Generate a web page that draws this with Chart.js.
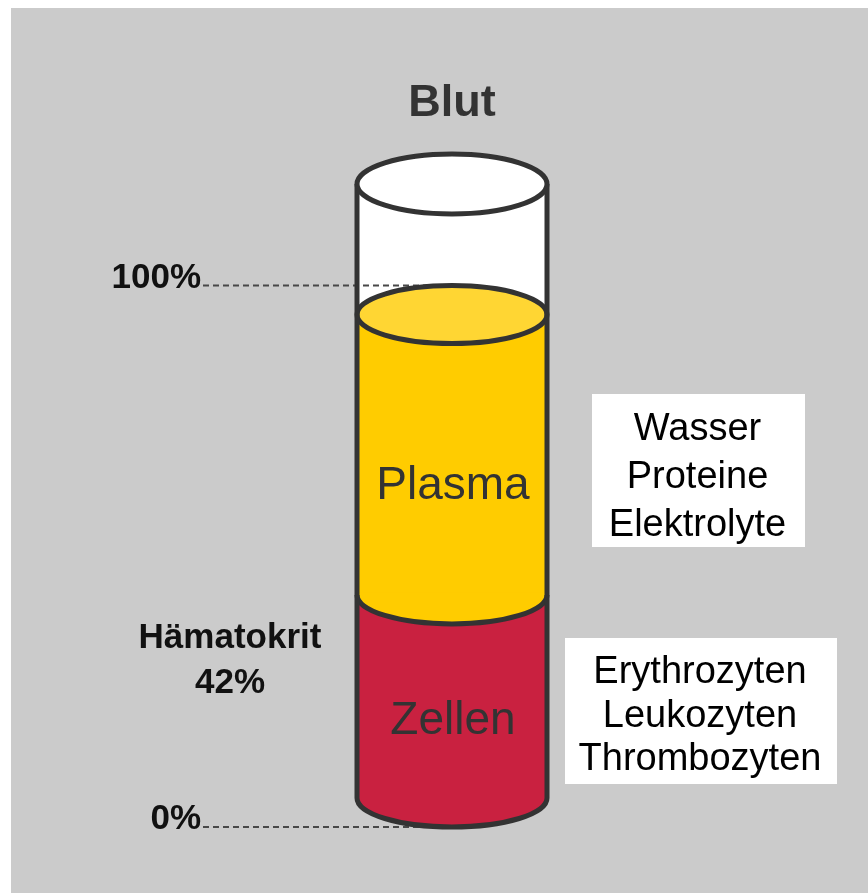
<!DOCTYPE html>
<html>
<head>
<meta charset="utf-8">
<script src="https://cdn.jsdelivr.net/npm/chart.js@4.4.1/dist/chart.umd.min.js"></script>
<style>
  body { margin: 0; background: #ffffff; }
  canvas { display: block; }
</style>
</head>
<body>
<canvas id="bloodChart" width="868" height="894"></canvas>
<script>
// --- Daten ---
const categories = ['Blut'];
const zellenValues = [42];   // Hämatokrit
const plasmaValues = [58];
const leerValues = [27];     // leerer Teil des Röhrchens oben
const tickValues = [0, 100];
const tickLabels = ['0%', '100%'];
const plasmaItems = ['Wasser', 'Proteine', 'Elektrolyte'];
const zellenItems = ['Erythrozyten', 'Leukozyten', 'Thrombozyten'];

const FONT = 'Arial, "Liberation Sans", Helvetica, sans-serif';
const LINE = '#333333';
const RED = '#C92140';
const YELLOW = '#FFCC00';
const YELLOW_TOP = '#FFD633';

// Hintergrund (grauer Kasten)
const backgroundPlugin = {
    id: 'grayBackground',
    beforeDraw(chart) {
        const ctx = chart.ctx;
        ctx.save();
        ctx.fillStyle = '#CBCBCB';
        ctx.fillRect(11, 8, 857, 885);
        ctx.restore();
    }
};

// Zylinder, gestrichelte Linien und Beschriftungen
const cylinderPlugin = {
    id: 'cylinder',
    afterDatasetsDraw(chart) {
        const ctx = chart.ctx;
        const y = chart.scales.y;
        const bar = chart.getDatasetMeta(0).data[0];
        const cx = bar.x;
        const rx = bar.width / 2;
        const ry = 29;
        const total = zellenValues[0] + plasmaValues[0];
        const y0 = y.getPixelForValue(0);
        const yB = y.getPixelForValue(zellenValues[0]);
        const yP = y.getPixelForValue(total);
        const yT = y.getPixelForValue(total + leerValues[0]);

        ctx.save();

        // gestrichelte Linien 0% / 100%
        ctx.setLineDash([6, 4]);
        ctx.strokeStyle = '#484848';
        ctx.lineWidth = 2;
        const lineYs = [y0 + ry, yP - ry];
        lineYs.forEach(ly => {
            ctx.beginPath();
            ctx.moveTo(203, ly);
            ctx.lineTo(cx, ly);
            ctx.stroke();
        });
        ctx.setLineDash([]);

        ctx.lineWidth = 5;
        ctx.strokeStyle = LINE;

        // Boden (rot)
        ctx.beginPath();
        ctx.ellipse(cx, y0, rx, ry, 0, 0, Math.PI);
        ctx.fillStyle = RED;
        ctx.fill();
        ctx.stroke();

        // Grenze Zellen / Plasma (Naht zwischen den Balken überdecken)
        ctx.fillStyle = YELLOW;
        ctx.fillRect(cx - rx, yB - 2, rx * 2, 4);
        ctx.beginPath();
        ctx.ellipse(cx, yB, rx, ry, 0, 0, Math.PI);
        ctx.fill();
        ctx.stroke();

        // Oberfläche Plasma
        ctx.beginPath();
        ctx.ellipse(cx, yP, rx, ry, 0, 0, Math.PI * 2);
        ctx.fillStyle = YELLOW_TOP;
        ctx.fill();
        ctx.stroke();

        // Seitenwände
        ctx.beginPath();
        ctx.moveTo(cx - rx, yT);
        ctx.lineTo(cx - rx, y0);
        ctx.moveTo(cx + rx, yT);
        ctx.lineTo(cx + rx, y0);
        ctx.stroke();

        // Öffnung oben
        ctx.beginPath();
        ctx.ellipse(cx, yT, rx, ry + 1, 0, 0, Math.PI * 2);
        ctx.fillStyle = '#ffffff';
        ctx.fill();
        ctx.stroke();

        // Achsenbeschriftung 0% / 100%
        ctx.fillStyle = '#111111';
        ctx.font = 'bold 35px ' + FONT;
        ctx.textAlign = 'right';
        ctx.textBaseline = 'alphabetic';
        tickValues.forEach((v, i) => {
            const ly = v === 0 ? y0 + ry : y.getPixelForValue(v) - ry;
            ctx.fillText(tickLabels[i], 201, ly + 2);
        });

        // Hämatokrit
        ctx.textAlign = 'center';
        ctx.fillText('Hämatokrit', 230, yB + 53);
        ctx.fillText(zellenValues[0] + '%', 230, yB + 98);

        // Beschriftung im Zylinder
        ctx.fillStyle = '#333333';
        ctx.font = '46px ' + FONT;
        ctx.fillText('Plasma', cx + 1, yP + 184);
        ctx.fillText('Zellen', cx + 1, y0 - 64);

        // Kästen rechts
        const drawBox = (bx, by, bw, bh, lines, baseY, step) => {
            ctx.fillStyle = '#ffffff';
            ctx.fillRect(bx, by, bw, bh);
            ctx.fillStyle = '#000000';
            ctx.font = '38px ' + FONT;
            lines.forEach((t, i) => ctx.fillText(t, bx + bw / 2 - 1, baseY + i * step));
        };
        drawBox(592, 394, 213, 153, plasmaItems, 440, 48);
        drawBox(565, 638, 272, 146, zellenItems, 683, 43.5);

        ctx.restore();
    }
};

const ctx = document.getElementById('bloodChart').getContext('2d');
const bloodChart = new Chart(ctx, {
    type: 'bar',
    data: {
        labels: categories,
        datasets: [{
            label: 'Zellen',
            data: zellenValues,
            backgroundColor: RED,
            borderWidth: 0
        }, {
            label: 'Plasma',
            data: plasmaValues,
            backgroundColor: YELLOW,
            borderWidth: 0
        }, {
            label: 'Leer',
            data: leerValues,
            backgroundColor: '#ffffff',
            borderWidth: 0
        }]
    },
    options: {
        responsive: false,
        animation: false,
        devicePixelRatio: 1,
        categoryPercentage: 1,
        barPercentage: 1,
        layout: {
            padding: { top: 0, bottom: 96, left: 357, right: 321 }
        },
        plugins: {
            legend: { display: false },
            tooltip: { enabled: false },
            title: {
                display: true,
                text: 'Blut',
                color: '#333333',
                font: { family: FONT, size: 45, weight: 'bold' },
                padding: { top: 77, bottom: 53 }
            }
        },
        scales: {
            x: { stacked: true, display: false },
            y: {
                stacked: true,
                display: false,
                min: 0,
                max: 127
            }
        }
    },
    plugins: [backgroundPlugin, cylinderPlugin]
});
</script>
</body>
</html>
